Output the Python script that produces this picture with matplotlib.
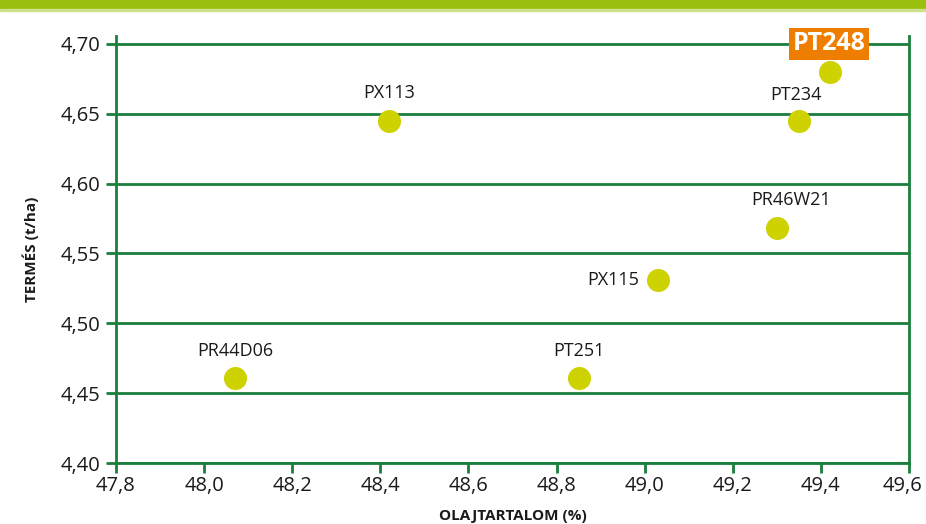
import matplotlib.pyplot as plt
from matplotlib.patches import Rectangle
from matplotlib.ticker import FuncFormatter
from matplotlib.transforms import ScaledTranslation

# Hybrids: oil content (%) vs yield (t/ha)
hybrids = ["PR44D06", "PX113", "PT251", "PX115", "PR46W21", "PT234", "PT248"]
oil = [48.07, 48.42, 48.85, 49.03, 49.30, 49.35, 49.42]
yield_t = [4.461, 4.645, 4.461, 4.531, 4.568, 4.645, 4.680]

# label offsets in pixels (dx, dy) and horizontal alignment
label_pos = {
    "PR44D06": (0, 27, "center"),
    "PX113": (0, 28, "center"),
    "PT251": (0, 27, "center"),
    "PX115": (-19, 0, "right"),
    "PR46W21": (14, 28, "center"),
    "PT234": (-3, 26, "center"),
}
highlight = "PT248"

green = "#1a7f3c"
dot = "#cdd200"

plt.rcParams["font.family"] = ["Open Sans", "DejaVu Sans"]

fig = plt.figure(figsize=(9.26, 5.24), dpi=100)
ax = fig.add_axes([116 / 926, 1 - 463 / 524, (909 - 116) / 926, (463 - 35.6) / 524])

# top band
fig.patches.append(Rectangle((0, 1 - 9 / 524), 1, 9 / 524, transform=fig.transFigure,
                             color="#9bbf0e", zorder=0))
fig.patches.append(Rectangle((0, 1 - 11 / 524), 1, 2 / 524, transform=fig.transFigure,
                             color="#cfe08a", zorder=0))

ax.scatter(oil, yield_t, s=23 ** 2 * 0.52, color=dot, zorder=3, linewidths=0)

px = 72 / 100  # pixels -> points
for name, x, y in zip(hybrids, oil, yield_t):
    if name == highlight:
        ax.annotate(name, (x, 4.70), xytext=(-1 * px, 0), textcoords="offset points",
                    ha="center", va="center", fontsize=18, fontweight="bold", color="white",
                    zorder=5,
                    bbox=dict(boxstyle="square,pad=0.14", fc="#ee7d00", ec="none"))
        continue
    dx, dy, ha = label_pos[name]
    ax.annotate(name, (x, y), xytext=(dx * px, dy * px), textcoords="offset points",
                ha=ha, va="center", fontsize=13, color="#1a1a1a", zorder=4)

ax.set_xlim(47.8, 49.6)
ax.set_ylim(4.40, 4.706)
ax.set_xticks([47.8 + 0.2 * i for i in range(10)])
ax.set_yticks([4.40, 4.45, 4.50, 4.55, 4.60, 4.65, 4.70])
ax.xaxis.set_major_formatter(FuncFormatter(lambda v, p: f"{v:.1f}".replace(".", ",")))
ax.yaxis.set_major_formatter(FuncFormatter(lambda v, p: f"{v:.2f}".replace(".", ",")))

ax.grid(axis="y", color=green, linewidth=2, zorder=1)
ax.set_axisbelow(True)
ax.spines["top"].set_visible(False)
for s in ["left", "right", "bottom"]:
    ax.spines[s].set_color(green)
    ax.spines[s].set_linewidth(2)
ax.tick_params(axis="both", colors=green, width=2, length=7, labelsize=14.5,
               labelcolor="#1a1a1a")
ax.tick_params(axis="x", pad=2)
ax.tick_params(axis="y", pad=4)

# keep the last x tick label inside the figure
last = ax.get_xticklabels()[-1]
last.set_transform(last.get_transform() + ScaledTranslation(-6 / 100, 0, fig.dpi_scale_trans))

ax.set_xlabel("OLAJTARTALOM (%)", fontsize=11, fontweight="bold", color="#1a1a1a", labelpad=10)
ax.set_ylabel("TERMÉS (t/ha)", fontsize=11, fontweight="bold", color="#1a1a1a", labelpad=16)

fig.savefig("out.png", dpi=100)
